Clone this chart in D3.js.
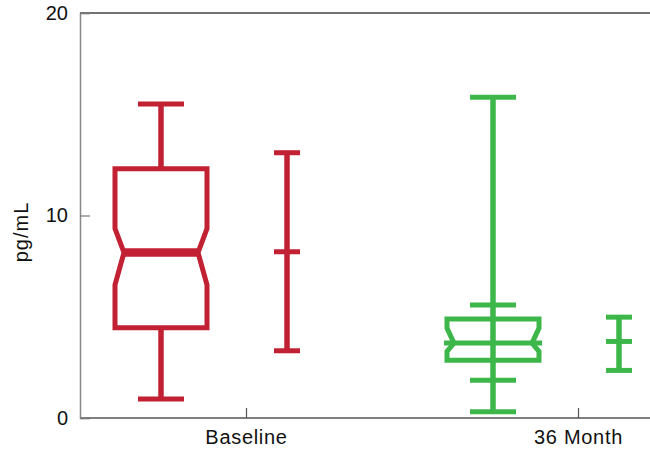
<!DOCTYPE html>
<html>
<head>
<meta charset="utf-8">
<script src="https://cdn.jsdelivr.net/npm/d3@7"></script>
<style>
  html, body { margin: 0; padding: 0; background: #fff; }
  svg { display: block; }
  text { font-family: "Liberation Sans", Arial, Helvetica, sans-serif; fill: #111; }
</style>
</head>
<body>
<svg id="chart" width="650" height="458"></svg>
<script>
// ---- data ----
const categories   = ["Baseline", "36 Month"];
const boxMin       = [0.94, 0.31];
const boxLowInner  = [null, 1.86];
const boxQ1        = [4.46, 2.85];
const notchLo      = [6.58, 3.29];
const boxMedian    = [8.17, 3.70];
const notchHi      = [9.35, 4.44];
const boxQ3        = [12.31, 4.89];
const boxHighInner = [null, 5.58];
const boxMax       = [15.51, 15.84];
const meanValue    = [8.21, 3.78];
const errLow       = [3.32, 2.35];
const errHigh      = [13.10, 4.98];
const yTicks       = [0, 10, 20];
const yLabel       = "pg/mL";

(function () {
  // ---- layout ----
  const mLeft = 80, mRight = 650, mTop = 13, mBottom = 418;
  const colors = ["#C22033", "#3DB64A"];
  const fontFam = '"Liberation Sans", Arial, sans-serif';

  const svg = d3.select("#chart");

  const y = d3.scaleLinear().domain([0, 20]).range([mBottom, mTop]);
  const x = d3.scalePoint().domain(categories).range([246, 578]);

  const boxOffset = -85, errOffset = 41;
  const boxW = 92, capW = 46, errCapW = 26;
  const indent = [9, 7];

  // axes frame
  svg.append("line").attr("x1", mLeft).attr("x2", mRight).attr("y1", mTop).attr("y2", mTop)
    .attr("stroke", "#444").attr("stroke-width", 1.5);
  svg.append("line").attr("x1", mLeft).attr("x2", mRight).attr("y1", mBottom).attr("y2", mBottom)
    .attr("stroke", "#555").attr("stroke-width", 1.5);

  // y axis
  const yAxis = d3.axisLeft(y).tickValues(yTicks).tickSize(-10).tickPadding(12).tickFormat(d3.format("d"));
  const gy = svg.append("g").attr("transform", `translate(${mLeft},0)`).call(yAxis);
  gy.attr("font-size", 20).attr("font-family", fontFam);
  gy.select(".domain").attr("stroke", "#888").attr("stroke-width", 1.5);
  gy.selectAll(".tick line").attr("stroke", "#777").attr("stroke-width", 1.2);
  gy.selectAll(".tick text").style("font-size", "20px").attr("fill", "#111");

  // x axis
  const xAxis = d3.axisBottom(x).tickSize(-10).tickPadding(12);
  const gx = svg.append("g").attr("transform", `translate(0,${mBottom})`).call(xAxis);
  gx.attr("font-size", 20).attr("font-family", fontFam);
  gx.select(".domain").remove();
  gx.selectAll(".tick line").attr("stroke", "#555").attr("stroke-width", 1.2);
  gx.selectAll(".tick text").style("font-size", "20px").attr("fill", "#111")
    .style("letter-spacing", "0.7px");

  // y label
  svg.append("text")
    .attr("transform", "translate(28,232) rotate(-90)")
    .attr("text-anchor", "middle")
    .style("font-size", "20px")
    .attr("font-family", fontFam)
    .style("letter-spacing", "1px")
    .text(yLabel);

  // ---- marks ----
  categories.forEach((cat, i) => {
    const c = colors[i];
    const cx = x(cat) + boxOffset;
    const L = cx - boxW / 2, R = cx + boxW / 2;
    const g = svg.append("g").attr("stroke", c).attr("fill", "none");

    // whisker line min -> max
    g.append("line").attr("x1", cx).attr("x2", cx)
      .attr("y1", y(boxMax[i])).attr("y2", y(boxMin[i])).attr("stroke-width", 5.5);
    // caps
    [boxMax[i], boxMin[i], boxHighInner[i], boxLowInner[i]].forEach(v => {
      if (v === null) return;
      g.append("line").attr("x1", cx - capW / 2).attr("x2", cx + capW / 2)
        .attr("y1", y(v)).attr("y2", y(v)).attr("stroke-width", 5);
    });

    // notched box
    const ind = indent[i];
    const pts = [
      [L, y(boxQ3[i])], [R, y(boxQ3[i])], [R, y(notchHi[i])], [R - ind, y(boxMedian[i])],
      [R, y(notchLo[i])], [R, y(boxQ1[i])], [L, y(boxQ1[i])], [L, y(notchLo[i])],
      [L + ind, y(boxMedian[i])], [L, y(notchHi[i])]
    ];
    g.append("path").attr("d", d3.line()(pts) + "Z")
      .attr("fill", i === 0 ? "#fff" : "none")
      .attr("stroke-width", 5).attr("stroke-linejoin", "miter");

    // median
    if (i === 0) {
      g.append("line").attr("x1", L + ind).attr("x2", R - ind)
        .attr("y1", y(boxMedian[i])).attr("y2", y(boxMedian[i])).attr("stroke-width", 8.5);
    } else {
      g.append("line").attr("x1", L - 3).attr("x2", R + 3)
        .attr("y1", y(boxMedian[i])).attr("y2", y(boxMedian[i])).attr("stroke-width", 5);
    }

    // error bar (mean with range)
    const ex = x(cat) + errOffset;
    g.append("line").attr("x1", ex).attr("x2", ex)
      .attr("y1", y(errHigh[i])).attr("y2", y(errLow[i])).attr("stroke-width", 5.5);
    [errHigh[i], meanValue[i], errLow[i]].forEach(v => {
      g.append("line").attr("x1", ex - errCapW / 2).attr("x2", ex + errCapW / 2)
        .attr("y1", y(v)).attr("y2", y(v)).attr("stroke-width", 5);
    });
  });
})();
</script>
</body>
</html>
